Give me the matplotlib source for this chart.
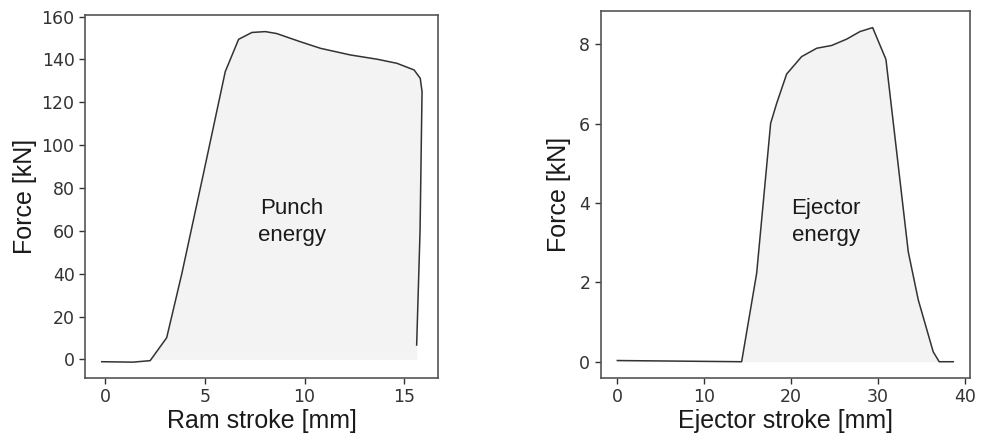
import numpy as np
import matplotlib
matplotlib.use("Agg")
import matplotlib.pyplot as plt

# Punch force vs ram stroke
ram_stroke = [-0.18, 1.4, 2.25, 3.08, 3.84, 4.93, 6.02, 6.69, 7.36, 8.03, 8.6,
              9.78, 10.8, 12.3, 13.65, 14.64, 15.5, 15.81, 15.9, 15.8, 15.63]
punch_force = [-1.1, -1.3, -0.6, 10.1, 40.0, 86.9, 134.3, 149.4, 152.6, 153.0, 152.1,
               148.3, 145.2, 142.1, 140.1, 138.2, 135.1, 131.2, 125.0, 60.0, 6.7]

# Ejector force vs ejector stroke
ej_stroke = [0.0, 14.31, 16.04, 17.65, 18.34, 19.49, 21.22, 22.95, 24.67, 26.4,
             27.93, 29.39, 30.92, 33.49, 34.64, 36.36, 37.05, 38.67]
ej_force = [0.03, 0.0, 2.23, 6.01, 6.51, 7.25, 7.69, 7.9, 7.97, 8.13,
            8.32, 8.42, 7.62, 2.77, 1.56, 0.25, 0.0, 0.0]

label_font = ["Liberation Sans", "DejaVu Sans"]
line_col = "#333333"
fill_col = "#f3f3f3"
spine_col = "#555555"

fig = plt.figure(figsize=(9.84, 4.38), dpi=100)
ax1 = fig.add_axes([0.0864, 0.137, 0.3587, 0.829])
ax2 = fig.add_axes([0.6105, 0.137, 0.3753, 0.838])


def style(ax):
    for s in ax.spines.values():
        s.set_color(spine_col)
        s.set_linewidth(1.2)
    ax.tick_params(colors="#333333", labelsize=12.5, width=1, length=4)
    for lab in ax.get_xticklabels() + ax.get_yticklabels():
        lab.set_color("#333333")


# left panel
x1 = np.array(ram_stroke)
y1 = np.array(punch_force)
ax1.fill_between(x1, np.clip(y1, 0, None), 0, color=fill_col, lw=0)
ax1.plot(x1, y1, color=line_col, lw=1.1)
ax1.set_xlim(-1.02, 16.7)
ax1.set_ylim(-8.7, 160.8)
ax1.set_xticks([0, 5, 10, 15])
ax1.set_yticks(range(0, 161, 20))
ax1.set_xlabel("Ram stroke [mm]", fontsize=18, family=label_font, color="#1a1a1a", labelpad=2)
ax1.set_ylabel("Force [kN]", fontsize=18, family=label_font, color="#1a1a1a", labelpad=3)
ax1.text(9.37, 64, "Punch\nenergy", ha="center", va="center", fontsize=16,
         family=label_font, color="#1a1a1a", linespacing=1.4)
style(ax1)

# right panel
x2 = np.array(ej_stroke)
y2 = np.array(ej_force)
ax2.fill_between(x2, np.clip(y2, 0, None), 0, color=fill_col, lw=0)
ax2.plot(x2, y2, color=line_col, lw=1.1)
ax2.set_xlim(-1.91, 40.6)
ax2.set_ylim(-0.41, 8.84)
ax2.set_xticks([0, 10, 20, 30, 40])
ax2.set_yticks([0, 2, 4, 6, 8])
ax2.set_xlabel("Ejector stroke [mm]", fontsize=18, family=label_font, color="#1a1a1a", labelpad=2)
ax2.set_ylabel("Force [kN]", fontsize=18, family=label_font, color="#1a1a1a", labelpad=6)
ax2.text(24.0, 3.52, "Ejector\nenergy", ha="center", va="center", fontsize=16,
         family=label_font, color="#1a1a1a", linespacing=1.4)
style(ax2)

fig.savefig("out.png", dpi=100)
